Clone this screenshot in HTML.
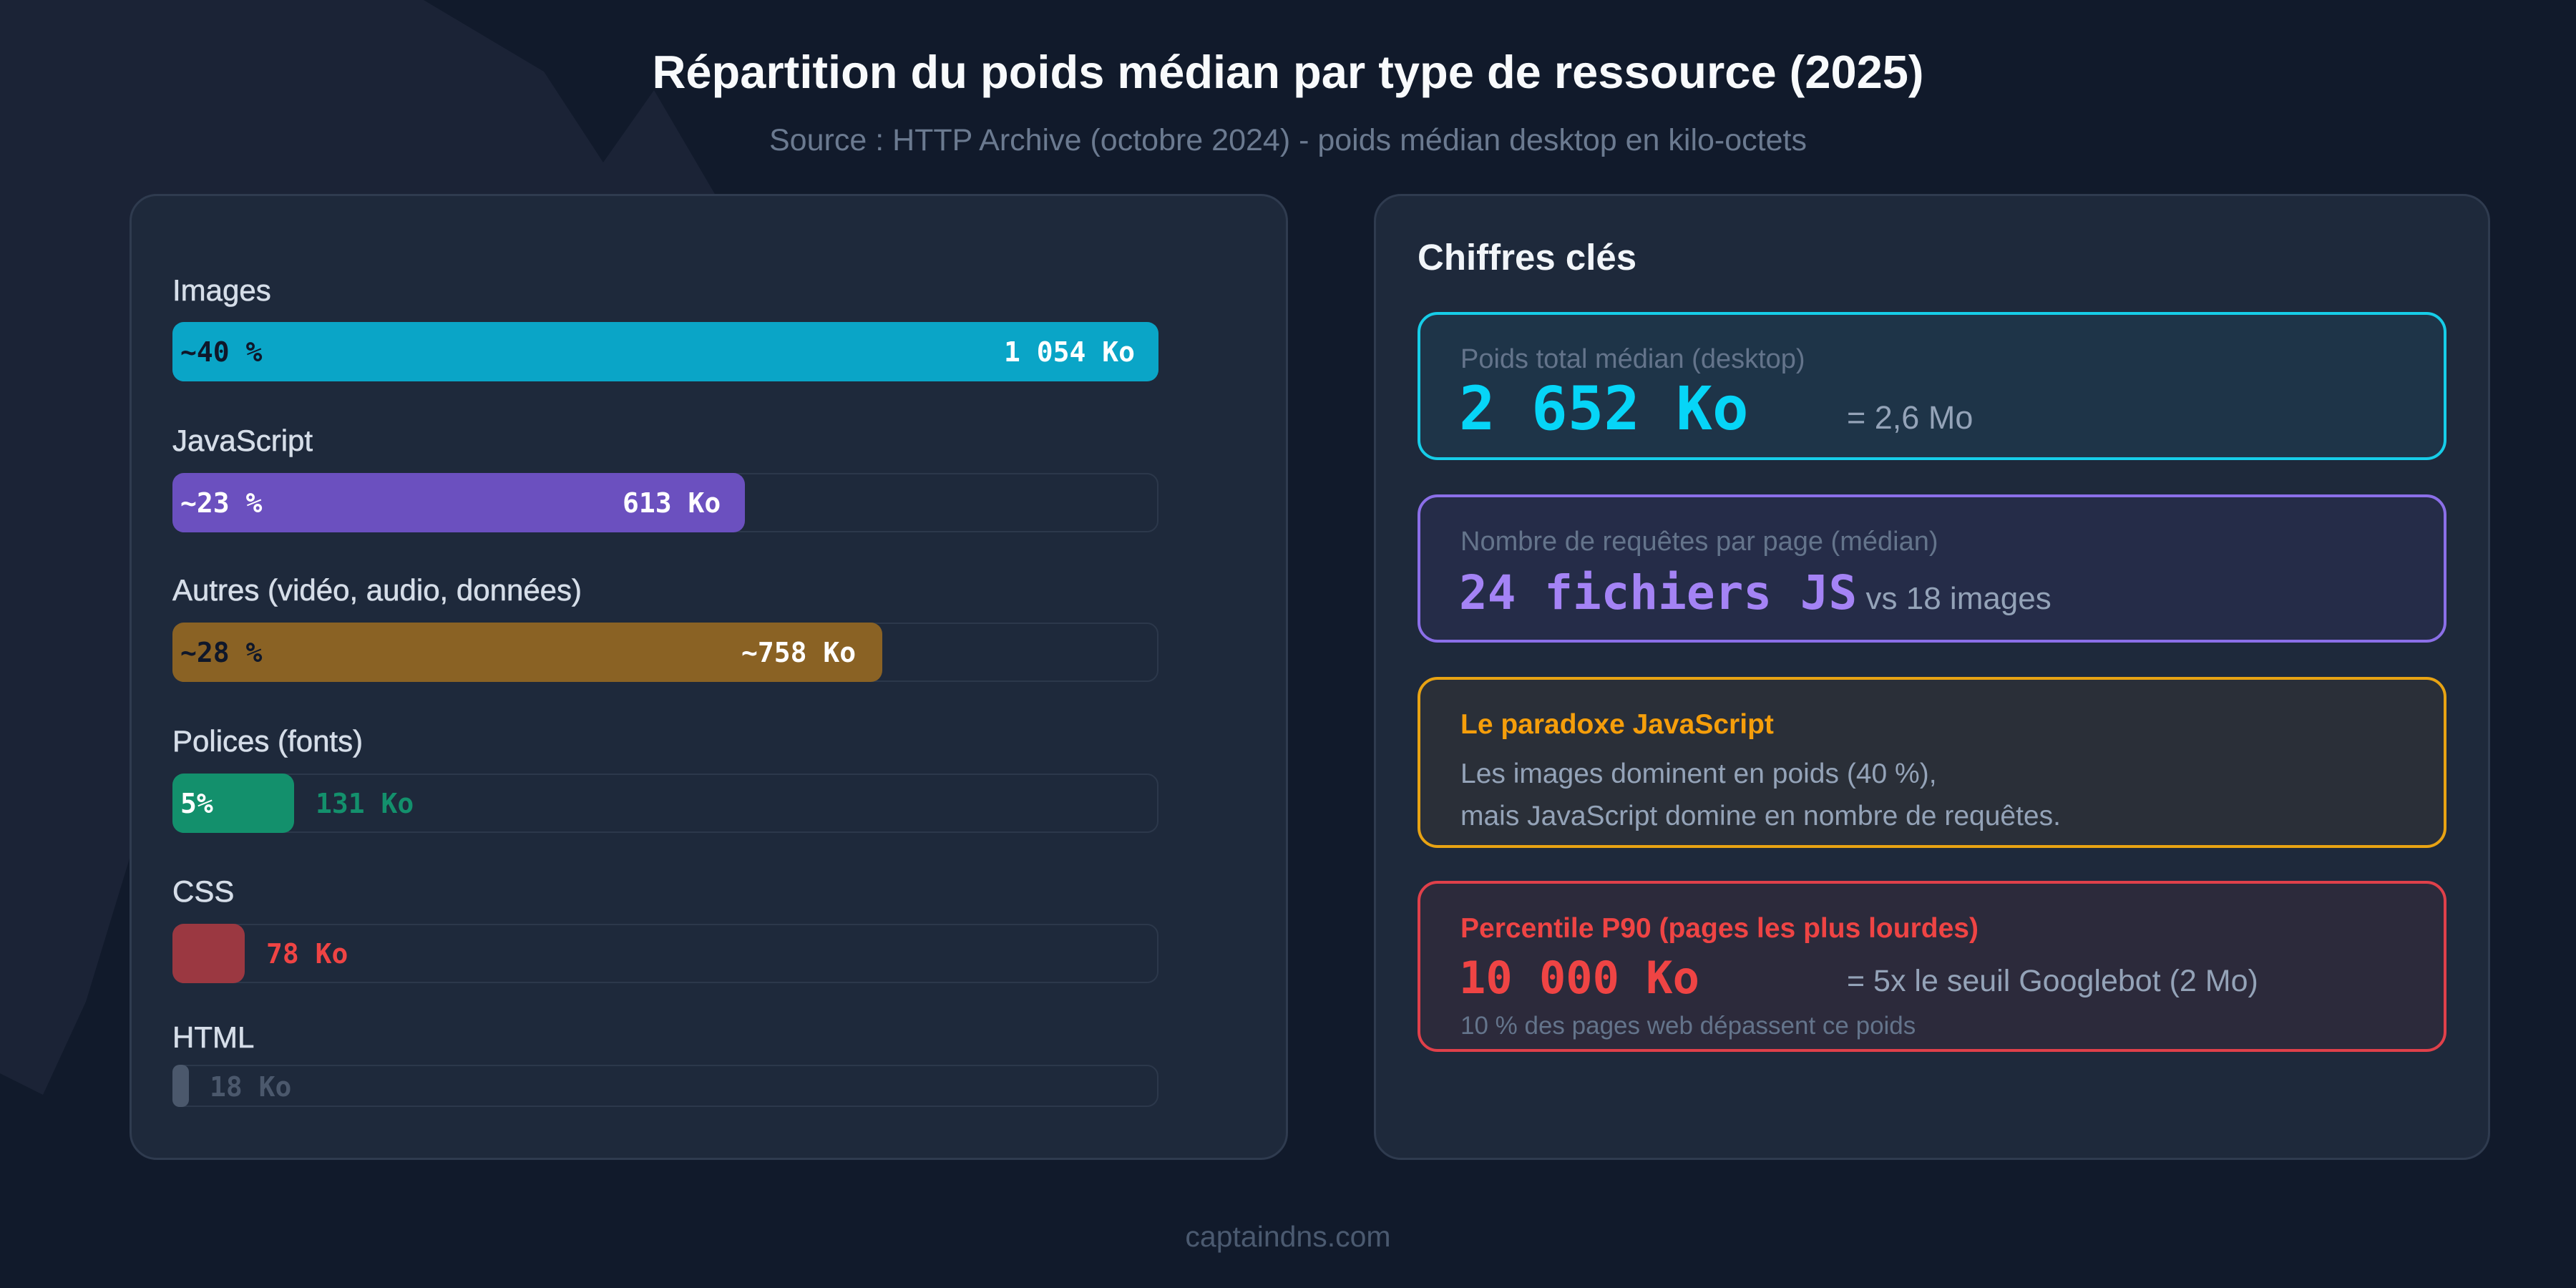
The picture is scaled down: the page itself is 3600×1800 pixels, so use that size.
<!DOCTYPE html>
<html><head><meta charset="utf-8"><style>
*{margin:0;padding:0;box-sizing:border-box}
body{width:3600px;height:1800px;background:#111a2b;position:relative;overflow:hidden;font-family:"Liberation Sans",sans-serif}
.a{position:absolute;white-space:nowrap}
.mono{font-family:"DejaVu Sans Mono","Liberation Mono",monospace;font-weight:bold}
.panel{position:absolute;background:#1e293b;border:3px solid #2f3b4f;border-radius:38px}
.lbl{position:absolute;left:241px;font-size:42px;color:#d5dde8;line-height:1;-webkit-text-stroke:0.6px #d5dde8}
.track{position:absolute;left:241px;width:1378px;height:83px;border:2px solid #2c384b;border-radius:16px;background:#1e293b}
.fill{position:absolute;left:241px;height:83px;border-radius:16px}
.bt{position:absolute;font-size:38px;line-height:1}
.card{position:absolute;left:1981px;width:1438px;border-radius:28px;border:4px solid}
</style></head><body>
<svg class="a" style="left:0;top:0" width="3600" height="1800"><polygon points="0,0 592,0 760,100 843,227 914,126 1010,290 1010,700 181,1200 120,1400 60,1530 0,1500" fill="#1b2336"/></svg>
<div class="a" style="left:0;width:3600px;top:63px;text-align:center;font-size:65px;font-weight:bold;color:#f8fafc">Répartition du poids médian par type de ressource (2025)</div>
<div class="a" style="left:0;width:3600px;top:172px;text-align:center;font-size:43px;color:#6b7a90">Source : HTTP Archive (octobre 2024) - poids médian desktop en kilo-octets</div>

<div class="panel" style="left:181px;top:271px;width:1619px;height:1350px"></div>
<div class="panel" style="left:1920px;top:271px;width:1560px;height:1350px"></div>

<div class="lbl" style="top:385px">Images</div>
<div class="track" style="top:450px"></div>
<div class="fill" style="top:450px;width:1378px;background:#0aa5c7"></div>
<div class="bt mono" style="left:252px;top:473px;color:#0f172a">~40 %</div>
<div class="bt mono" style="left:1403px;top:473px;color:#fff">1 054 Ko</div>

<div class="lbl" style="top:595px">JavaScript</div>
<div class="track" style="top:661px"></div>
<div class="fill" style="top:661px;width:800px;background:#6b50bf"></div>
<div class="bt mono" style="left:252px;top:684px;color:#fff">~23 %</div>
<div class="bt mono" style="left:870px;top:684px;color:#fff">613 Ko</div>

<div class="lbl" style="top:804px">Autres (vidéo, audio, données)</div>
<div class="track" style="top:870px"></div>
<div class="fill" style="top:870px;width:992px;background:#8a6224"></div>
<div class="bt mono" style="left:252px;top:893px;color:#0f172a">~28 %</div>
<div class="bt mono" style="left:1036px;top:893px;color:#fff">~758 Ko</div>

<div class="lbl" style="top:1015px">Polices (fonts)</div>
<div class="track" style="top:1081px"></div>
<div class="fill" style="top:1081px;width:170px;background:#13906c"></div>
<div class="bt mono" style="left:252px;top:1104px;color:#fff">5%</div>
<div class="bt mono" style="left:441px;top:1104px;color:#13906c">131 Ko</div>

<div class="lbl" style="top:1225px">CSS</div>
<div class="track" style="top:1291px"></div>
<div class="fill" style="top:1291px;width:101px;background:#9b3841"></div>
<div class="bt mono" style="left:372px;top:1314px;color:#ef4444">78 Ko</div>

<div class="lbl" style="top:1429px">HTML</div>
<div class="track" style="top:1488px;height:59px"></div>
<div class="fill" style="top:1488px;height:59px;width:23px;background:#4b586c;border-radius:10px"></div>
<div class="bt mono" style="left:293px;top:1500px;color:#4b586c">18 Ko</div>

<div class="a" style="left:1981px;top:330px;font-size:51px;font-weight:bold;color:#f1f5f9">Chiffres clés</div>

<div class="card" style="top:436px;height:207px;border-color:#16cde8;background:#1e3448"></div>
<div class="a" style="left:2041px;top:481px;font-size:38px;color:#64748b">Poids total médian (desktop)</div>
<div class="a mono" style="left:2039px;top:522px;font-size:84px;color:#06d5f7">2 652 Ko</div>
<div class="a" style="left:2581px;top:558px;font-size:45px;color:#94a3b8">= 2,6 Mo</div>

<div class="card" style="top:691px;height:207px;border-color:#8b6fe8;background:#252c48"></div>
<div class="a" style="left:2041px;top:736px;font-size:38px;color:#64748b">Nombre de requêtes par page (médian)</div>
<div class="a" style="left:2039px;top:795px;font-size:66px;line-height:1"><span class="mono" style="color:#a483f5">24 fichiers JS</span><span style="font-size:44px;color:#94a3b8"> vs 18 images</span></div>

<div class="card" style="top:946px;height:239px;border-color:#e8a313;background:#2a2f38"></div>
<div class="a" style="left:2041px;top:991px;font-size:39px;font-weight:bold;color:#f59e0b">Le paradoxe JavaScript</div>
<div class="a" style="left:2041px;top:1060px;font-size:39px;color:#94a3b8">Les images dominent en poids (40 %),</div>
<div class="a" style="left:2041px;top:1119px;font-size:39px;color:#94a3b8">mais JavaScript domine en nombre de requêtes.</div>

<div class="card" style="top:1231px;height:239px;border-color:#e0404a;background:#2c2a3b"></div>
<div class="a" style="left:2041px;top:1276px;font-size:39px;font-weight:bold;color:#ef4444">Percentile P90 (pages les plus lourdes)</div>
<div class="a mono" style="left:2039px;top:1330px;font-size:62px;color:#ef4444">10 000 Ko</div>
<div class="a" style="left:2581px;top:1347px;font-size:43px;color:#94a3b8">= 5x le seuil Googlebot (2 Mo)</div>
<div class="a" style="left:2041px;top:1414px;font-size:35px;color:#64748b">10 % des pages web dépassent ce poids</div>

<div class="a" style="left:0;width:3600px;top:1705px;text-align:center;font-size:41px;color:#4b5a70">captaindns.com</div>
</body></html>
